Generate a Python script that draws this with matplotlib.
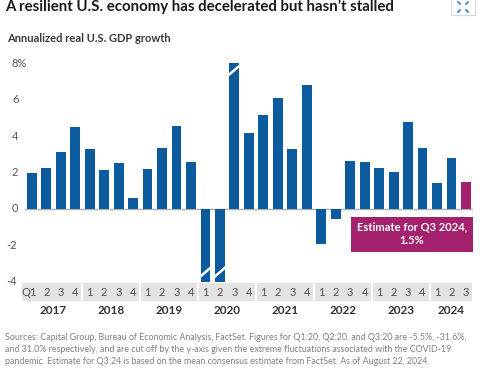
import matplotlib.pyplot as plt
from matplotlib.patches import Rectangle

plt.rcParams['font.family'] = ['Lato', 'DejaVu Sans']

years = ["2017", "2018", "2019", "2020", "2021", "2022", "2023", "2024"]
quarters = ["Q1", "2", "3", "4"] + ["1", "2", "3", "4"] * 6 + ["1", "2", "3"]
# annualized growth, % (2020 Q1-Q3 clipped at the axis limits)
gdp = [1.97, 2.24, 3.15, 4.5,
       3.28, 2.13, 2.5, 0.58,
       2.19, 3.33, 4.54, 2.6,
       -5.5, -31.6, 31.0, 4.15,
       5.14, 6.07, 3.28, 6.8,
       -1.95, -0.55, 2.64, 2.55,
       2.24, 2.04, 4.79, 3.37,
       1.42, 2.82, 1.5]
cut = [12, 13, 14]
estimate_idx = 30

blue = "#0b5b9e"
magenta = "#a4226d"
ymin, ymax = -4, 8

fig = plt.figure(figsize=(4.9, 3.73), dpi=100)
ax = fig.add_axes([0.05, 0.2448, 0.9157, 0.5855])

x = list(range(len(gdp)))
vals = [max(min(v, ymax), ymin) for v in gdp]
colors = [magenta if i == estimate_idx else blue for i in x]
ax.bar(x, vals, width=0.68, color=colors, zorder=2)

# break marks on the clipped bars
for i in cut:
    if gdp[i] < 0:
        ax.plot([i - 0.4, i + 0.4], [-3.75, -3.2], color="white", lw=1.8, zorder=3,
                solid_capstyle="butt")
    else:
        ax.plot([i - 0.4, i + 0.4], [7.35, 7.9], color="white", lw=1.8, zorder=3,
                solid_capstyle="butt")

ax.axhline(0, color="#b0b0b0", lw=1, zorder=1)
ax.set_xlim(-0.5, 30.5)
ax.set_ylim(ymin, ymax)
ax.axis("off")

# y labels
for t in range(-4, 9, 2):
    lab = "8%" if t == 8 else str(t)
    xp = 6.5 / 490 if t < 0 else 12 / 490
    fig.text(xp, ax.transData.transform((0, t))[1] / fig.bbox.height, lab,
             ha="left", va="center", fontsize=8, color="#555555")

# quarter boxes and labels
for k, yr in enumerate(years):
    start = k * 4
    n = 4 if yr != "2024" else 3
    left = start - 0.7 if k == 0 else start - 0.43
    right = start + n - 0.57
    ax.add_patch(Rectangle((left, -4.07), right - left, -1.0, color="#e4e3e0",
                           clip_on=False, zorder=1, lw=0))
    ax.text(start + (n - 1) / 2, -5.6, yr, ha="center", va="center",
            fontsize=8.5, fontweight="bold", color="#333333")
for i, q in enumerate(quarters):
    ax.text(i - (0.15 if q == "Q1" else 0), -4.58, q, ha="center", va="center",
            fontsize=8, color="#555555")

# estimate callout
ax.add_patch(Rectangle((22.03, -2.35), 30.5 - 22.03, 1.93, color=magenta,
                       clip_on=False, zorder=2, lw=0))
ax.text(26.27, -1.38, "Estimate for Q3 2024,\n1.5%", ha="center", va="center",
        color="white", fontsize=8, fontweight="bold", linespacing=1.3)

fig.text(5 / 490, 1 - 11 / 373, "A resilient U.S. economy has decelerated but hasn\u2019t stalled",
         ha="left", va="baseline", fontsize=10.8, fontweight="bold", color="#1a1a1a")
fig.text(7 / 490, 1 - 42 / 373, "Annualized real U.S. GDP growth",
         ha="left", va="baseline", fontsize=8, fontweight="bold", color="#3a3a3a")

note = ("Sources: Capital Group, Bureau of Economic Analysis, FactSet. Figures for Q1:20, Q2:20, and Q3:20 are -5.5%, -31.6%,\n"
        "and 31.0% respectively, and are cut off by the y-axis given the extreme fluctuations associated with the COVID-19\n"
        "pandemic. Estimate for Q3:24 is based on the mean consensus estimate from FactSet. As of August 22, 2024.")
fig.text(5 / 490, 1 - 333 / 373, note, ha="left", va="top", fontsize=6.4,
         color="#808080", linespacing=1.45)

# expand icon (box with four small corner arrows)
fig.patches.append(Rectangle((451 / 490, 1 - 15 / 373), 24 / 490, 17 / 373,
                             transform=fig.transFigure, fill=False,
                             edgecolor="#d8d8d8", lw=0.8))
for dx, dy in [(-1, 1), (1, 1), (-1, -1), (1, -1)]:
    cx, cy = 463 + dx * 3, 7 - dy * 3
    fig.add_artist(plt.Line2D([(cx) / 490, (cx + dx * 2) / 490],
                              [1 - cy / 373, 1 - (cy - dy * 2) / 373],
                              color="#2a7fc4", lw=1.2))

fig.savefig("out.png", dpi=100)
